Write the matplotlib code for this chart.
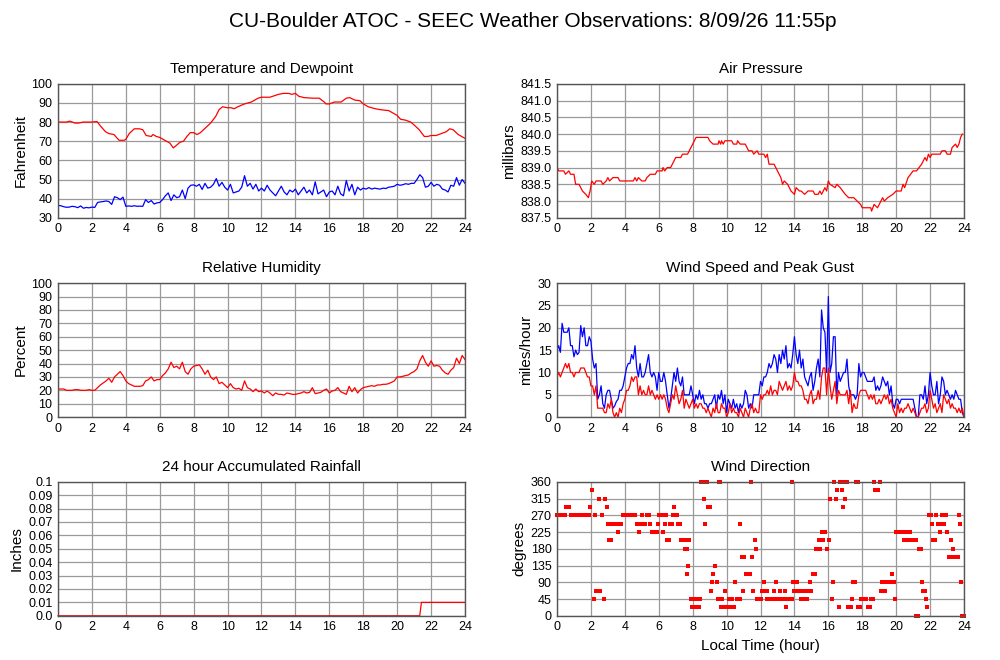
import numpy as np
import matplotlib
matplotlib.use('Agg')
import matplotlib.pyplot as plt

plt.rcParams['font.family'] = ['Liberation Sans', 'DejaVu Sans']

# ---- data ----
hour_ticks = list(range(0, 25, 2))

# temperature (F), breakpoints in hours
temp_hours = [0, 0.5, 0.7, 1.0, 1.2, 1.5, 2.0, 2.3, 2.5, 2.8, 3.0, 3.3, 3.6, 3.9, 4.0, 4.2,
              4.5, 4.8, 5.0, 5.2, 5.5, 5.6, 5.8, 6.0, 6.3, 6.6, 6.8, 7.0, 7.2, 7.4, 7.6, 7.8,
              8.0, 8.2, 8.4, 8.7, 9.0, 9.3, 9.5, 9.7, 10.0, 10.2, 10.4, 10.6, 11.0, 11.4, 11.8,
              12.0, 12.5, 13.0, 13.3, 13.6, 13.8, 14.0, 14.2, 14.5, 15.0, 15.4, 15.7, 15.8,
              16.0, 16.3, 16.7, 17.0, 17.2, 17.5, 17.8, 18.0, 18.3, 18.7, 19.0, 19.5, 19.8,
              20.0, 20.2, 20.5, 20.8, 21.0, 21.3, 21.6, 21.8, 22.0, 22.3, 22.6, 22.9, 23.1,
              23.3, 23.6, 24.0]
temp_f = [80, 80, 80.5, 79.5, 79.5, 80, 80, 80.3, 78, 75, 74, 73.5, 70.5, 70.5, 71, 74,
          76.5, 76.5, 76, 73, 72.5, 73.5, 72.5, 72, 70.5, 69, 66.5, 68, 69.5, 70, 72.5, 74.5,
          74.5, 73.5, 74.5, 77, 79.5, 83, 86.5, 88, 87.5, 87.5, 87, 88, 89.5, 90.5, 92.5,
          93, 93, 94.5, 95, 95, 94.5, 95, 93.5, 92.8, 92.5, 92.5, 90.5, 89.5,
          89.5, 90.5, 90.5, 92.5, 92.8, 91.5, 91.2, 89.5, 88, 87, 86.5, 86, 84.5,
          83.5, 81.5, 81, 80, 78.5, 76, 72.5, 72.5, 73, 73, 74, 75, 76.5,
          76, 73.5, 71.5]

# dewpoint (F), every 10 minutes
dewpoint_f = [
    36.5, 36.3, 35.8, 35.5, 35.6, 36.0,
    35.8, 35.3, 36.2, 35.0, 35.4, 35.2,
    35.6, 35.4, 38.0, 38.3, 38.5, 38.8,
    38.5, 37.0, 41.0, 40.5, 39.5, 40.8,
    36.0, 36.2, 36.0, 36.3, 36.0, 36.1,
    36.0, 39.5, 38.0, 39.0, 37.2, 37.8,
    38.0, 39.5, 41.5, 43.0, 39.0, 42.0,
    40.5, 41.0, 44.5, 40.0, 45.5, 47.0,
    47.2, 46.5, 47.5, 44.8, 48.0, 45.5,
    46.0, 47.5, 50.5, 46.5, 48.5, 46.0,
    44.5, 47.5, 43.0, 43.5, 44.0, 46.0,
    52.0, 46.5, 48.0, 45.0, 47.5, 44.0,
    45.5, 44.0, 47.0, 44.5, 43.0, 41.5,
    44.0, 46.5, 43.5, 42.0, 44.5, 43.5,
    45.0, 42.0, 44.0, 46.0, 43.0, 44.5,
    42.0, 48.8, 42.5, 43.5, 44.5, 41.0,
    43.5, 44.0, 42.0, 46.5, 42.5, 41.5,
    49.5, 44.0, 47.5, 42.0, 46.0, 44.5,
    45.5, 45.0, 45.8, 45.0, 45.5, 45.2,
    45.0, 45.5, 45.3, 46.0, 46.2, 46.5,
    47.5, 47.0, 47.3, 47.8, 47.5, 48.0,
    48.0, 50.0, 52.5, 51.0, 46.0, 46.5,
    48.5, 46.5, 47.5, 47.0, 45.0, 44.5,
    43.5, 47.0, 46.5, 51.0, 47.0, 50.0,
    48.0]

# air pressure (mb), breakpoints in hours
pres_hours = [0, 0.1, 0.4, 0.5, 0.7, 0.8, 1.0, 1.1, 1.3, 1.5, 1.7, 1.85, 1.95, 2.05, 2.2, 2.3,
              2.6, 2.7, 2.9, 3.0, 3.1, 3.3, 3.6, 3.7, 4.0, 4.5, 4.6, 4.7, 4.8, 5.0, 5.2, 5.3,
              5.5, 5.8, 5.9, 6.2, 6.25, 6.35, 6.5, 6.7, 6.9, 7.0, 7.3, 7.4, 7.7, 7.9, 8.0,
              8.2, 8.9, 9.0, 9.2, 9.5, 9.55, 9.65, 9.7, 9.8, 9.9, 10.3, 10.4, 10.6, 10.65,
              10.8, 11.1, 11.3, 11.5, 11.6, 11.8, 11.9, 12.2, 12.3, 12.4, 12.5, 12.8, 13.0,
              13.2, 13.3, 13.4, 13.6, 13.8, 14.0, 14.1, 14.3, 14.4, 14.6, 14.8, 15.1, 15.2,
              15.4, 15.5, 15.6, 15.7, 15.8, 15.9, 16.0, 16.1, 16.4, 16.5, 16.7, 17.0, 17.2,
              17.5, 17.7, 17.9, 18.0, 18.5, 18.55, 18.7, 18.9, 19.0, 19.1, 19.2, 19.3, 19.5,
              19.8, 20.0, 20.3, 20.4, 20.5, 20.7, 21.0, 21.2, 21.5, 21.7, 21.8, 21.9, 22.0,
              22.1, 22.6, 22.7, 22.9, 23.0, 23.2, 23.3, 23.5, 23.6, 23.7, 23.8, 23.9]
pres_mb = [839.0, 838.9, 838.9, 838.8, 838.9, 838.8, 838.8, 838.5, 838.5, 838.3, 838.2, 838.1,
           838.3, 838.6, 838.5, 838.6, 838.6, 838.5, 838.6, 838.7, 838.6, 838.7, 838.7, 838.6,
           838.6, 838.6, 838.7, 838.6, 838.7, 838.6, 838.6, 838.7, 838.8, 838.8, 838.9, 838.9,
           839.0, 838.9, 839.0, 839.0, 839.2, 839.3, 839.3, 839.4, 839.4, 839.6, 839.7,
           839.9, 839.9, 839.8, 839.7, 839.7, 839.8, 839.7, 839.8, 839.7, 839.8, 839.8, 839.7,
           839.7, 839.8, 839.7, 839.7, 839.5, 839.5, 839.4, 839.5, 839.4, 839.4, 839.3, 839.4,
           839.1, 839.1, 838.9, 838.7, 838.5, 838.6, 838.5, 838.3, 838.2, 838.4, 838.3, 838.3,
           838.2, 838.3, 838.3, 838.2, 838.2, 838.3, 838.2, 838.3, 838.4, 838.3, 838.6, 838.5,
           838.4, 838.5, 838.4, 838.2, 838.1, 838.1, 838.0, 837.9, 837.8, 837.8, 837.7, 837.9,
           837.8, 837.9, 838.0, 838.1, 838.0, 838.1, 838.2, 838.3, 838.3, 838.5, 838.4, 838.7,
           838.9, 838.9, 839.1, 839.3, 839.2, 839.4, 839.3, 839.4, 839.4, 839.5, 839.5, 839.4,
           839.4, 839.6, 839.7, 839.6, 839.7, 839.9, 840.0]

# relative humidity (%), every 10 minutes
rh_pct = [
    21, 21, 21, 20, 20, 20,
    20.5, 20.5, 20, 20, 20, 20.5,
    20, 20, 22, 24, 25.5, 27,
    29, 26, 30, 32, 34, 31,
    27, 25, 24, 23, 23, 23,
    23.5, 27, 28, 30, 27, 28,
    28, 31, 33, 36, 41, 37,
    38, 36, 41, 34, 32, 36,
    38, 38.5, 39, 36, 32, 35,
    30, 28, 30, 25, 26, 24,
    22, 25, 22, 21, 21.5, 20,
    27, 22, 21, 19, 21, 19,
    19.5, 18, 19.5, 18, 16, 18,
    17, 17, 16.5, 18, 17.5, 17,
    17, 17.5, 18, 19, 18, 18.5,
    22, 17.5, 18, 18.5, 20, 21,
    18, 19.5, 20, 22, 19, 18,
    17, 23, 19, 22, 18, 20.5,
    22, 22.5, 23, 23.5, 23, 24,
    24, 24.5, 24.5, 25, 26, 27,
    30, 30, 30.5, 31, 31.5, 33,
    34, 36, 42, 46, 41, 38,
    42, 38, 38.5, 38, 35, 33,
    32, 35, 37, 44, 40, 46,
    43]

# wind speed and peak gust (mph), every 6 minutes
gust_mph = [
    15, 16, 14.5, 21, 19, 19, 19, 20, 16, 16,
    13.5, 15, 14, 14.5, 20.5, 18, 20, 16, 16, 18,
    17, 13, 11, 12, 4, 5, 7, 3, 2, 5,
    6, 6, 4, 2, 2.5, 3.5, 4, 6, 6, 7,
    9, 11, 12, 12, 14, 13, 16, 11, 9, 12,
    9, 9, 10, 12, 14, 10, 9, 10, 9, 6,
    10, 8, 8, 10, 8, 5, 2, 4, 7, 10,
    8, 11, 8, 7, 9, 5, 5, 5, 5, 7,
    5, 3, 5, 4, 6, 4, 5, 3, 3, 2,
    3, 3, 4, 5, 2, 5, 4, 6, 3, 5,
    1, 4, 3, 2, 4, 2, 3, 1, 3, 2,
    3, 6, 5, 2, 3, 2, 5, 5, 5, 5,
    8, 7, 9, 9, 10, 12, 11, 12, 14, 13,
    10, 14, 12, 15, 13, 16, 11, 12, 11, 14,
    18, 14, 12, 15, 11, 13, 9, 8, 7, 9,
    10, 6, 8, 11, 13, 9, 24, 20, 19, 10,
    27, 10, 12, 18, 18, 5, 10, 8, 9, 10,
    10, 13, 7, 5, 5, 5, 4, 5, 12, 9,
    10, 10, 9, 8, 8, 8, 8, 9, 6, 7,
    6, 7, 9, 8, 7, 8, 5, 7, 3, 2,
    4, 4, 3, 4, 4, 4, 4, 4, 4, 4,
    4, 2, 0, 0, 5, 5, 4, 7, 3, 5,
    10, 7, 5, 5, 8, 3, 5, 9, 8, 5,
    6, 5, 4, 5, 4, 6, 5, 4, 4, 1,
    0]
speed_mph = [
    9, 10, 9, 10, 11, 12, 11, 12, 10, 10,
    9, 10, 10, 10, 11, 11, 11, 10, 9, 9,
    7, 7, 5, 7, 2, 2, 2, 2, 1, 1,
    3, 2, 4, 1, 0, 1, 0, 2, 1, 3,
    4, 6, 6, 7, 9, 8, 9, 9, 5, 7,
    5, 6, 5, 5, 7, 5, 6, 5, 4, 5,
    4, 5, 4, 5, 4, 2, 1, 3, 5, 4,
    7, 5, 3, 4, 6, 2, 4, 3, 2, 3,
    4, 2, 3, 2, 3, 3, 2, 2, 1, 2,
    1, 0, 2, 1, 3, 1, 1, 3, 2, 2,
    0, 1, 3, 1, 2, 1, 1, 0, 2, 1,
    0, 2, 1, 0, 2, 3, 1, 2, 1, 1,
    5, 4, 5, 5, 6, 5, 7, 5, 6, 6,
    5, 8, 7, 6, 7, 8, 6, 7, 6, 7,
    10, 8, 8, 7, 7, 6, 4, 4, 3, 5,
    6, 3, 4, 4, 6, 4, 9, 11, 11, 5,
    11, 7, 4, 6, 8, 3, 6, 5, 5, 5,
    5, 6, 3, 6, 1, 3, 2, 2, 5, 6,
    6, 6, 6, 5, 4, 5, 4, 5, 3, 3,
    4, 3, 4, 5, 4, 5, 3, 4, 2, 1,
    0, 3, 1, 2, 1, 2, 2, 3, 2, 1,
    2, 1, 0, 0, 1, 2, 2, 3, 1, 2,
    6, 4, 2, 3, 1, 2, 3, 1, 5, 4,
    3, 4, 2, 3, 2, 2, 1, 2, 1, 2,
    0]

# 24 hour accumulated rainfall (inches)
rain_hours = [0, 21.33, 21.43, 24]
rain_in = [0.0, 0.0, 0.01, 0.01]

# wind direction (degrees), individual observations
dir_hours = [0.0, 0.1, 0.2, 0.3, 0.4, 0.5, 0.55, 0.63, 0.71, 0.8, 0.9, 1.0, 1.1, 1.2, 1.3, 1.4,
             1.5, 1.6, 1.7, 1.8, 1.9, 1.96, 2.06, 2.16, 2.26, 2.32, 2.43, 2.49, 2.55, 2.67,
             2.75, 2.83, 2.92, 2.98, 3.08, 3.2, 3.26, 3.36, 3.46, 3.57, 3.63, 3.69, 3.79,
             3.89, 4.0, 4.1, 4.2, 4.3, 4.4, 4.5, 4.6, 4.71, 4.81, 4.9, 5.0, 5.1, 5.2, 5.3,
             5.4, 5.5, 5.59, 5.69, 5.79, 5.89, 5.93, 5.99, 6.09, 6.19, 6.24, 6.34, 6.42,
             6.5, 6.61, 6.67, 6.79, 6.83, 6.91, 6.99, 7.1, 7.16, 7.28, 7.3, 7.4, 7.52, 7.55,
             7.65, 7.67, 7.75, 7.81, 7.91, 7.97, 8.08, 8.16, 8.24, 8.36, 8.44, 8.48, 8.56,
             8.63, 8.67, 8.73, 8.83, 8.93, 9.03, 9.07, 9.14, 9.22, 9.32, 9.42, 9.52, 9.58,
             9.62, 9.65, 9.75, 9.81, 9.91, 9.97, 10.11, 10.16, 10.3, 10.34, 10.46, 10.52,
             10.6, 10.69, 10.79, 10.8, 10.91, 10.99, 11.03, 11.15, 11.26, 11.38, 11.42,
             11.5, 11.58, 11.68, 11.73, 11.81, 11.91, 12.01, 12.07, 12.17, 12.23, 12.28,
             12.36, 12.4, 12.5, 12.6, 12.75, 12.81, 12.91, 12.99, 13.11, 13.17, 13.3,
             13.42, 13.48, 13.58, 13.7, 13.83, 13.85, 13.91, 13.99, 14.09, 14.17, 14.23,
             14.32, 14.36, 14.42, 14.52, 14.62, 14.72, 14.76, 14.87, 14.91, 14.97, 15.11,
             15.21, 15.25, 15.35, 15.44, 15.5, 15.6, 15.64, 15.7, 15.8, 15.93, 16.03,
             16.09, 16.19, 16.25, 16.35, 16.44, 16.52, 16.6, 16.68, 16.78, 16.84, 16.93,
             17.01, 17.11, 17.17, 17.31, 17.37, 17.43, 17.56, 17.62, 17.72, 17.74, 17.86,
             17.92, 18.01, 18.13, 18.25, 18.35, 18.45, 18.54, 18.64, 18.68, 18.74, 18.84,
             18.94, 19.03, 19.13, 19.19, 19.29, 19.37, 19.43, 19.52, 19.62, 19.72, 19.78,
             19.86, 19.92, 19.98, 20.07, 20.17, 20.27, 20.41, 20.45, 20.51, 20.6, 20.7,
             20.8, 20.9, 21.03, 21.15, 21.19, 21.29, 21.33, 21.49, 21.53, 21.59, 21.68,
             21.76, 21.84, 21.94, 22.08, 22.12, 22.17, 22.27, 22.37, 22.47, 22.57, 22.61,
             22.7, 22.8, 22.86, 22.94, 23.0, 23.1, 23.19, 23.25, 23.35, 23.41, 23.55,
             23.65, 23.69, 23.74, 23.84, 23.9, 23.98]
dir_deg = [270, 270, 270, 270, 270, 270, 292.5, 292.5, 292.5, 270, 270, 270, 270, 270, 270, 270,
           270, 270, 270, 270, 270, 292.5, 337.5, 45, 270, 67.5, 67.5, 315, 67.5, 270,
           45, 315, 292.5, 247.5, 202.5, 202.5, 247.5, 247.5, 247.5, 225, 247.5, 247.5, 247.5,
           270, 270, 270, 270, 270, 270, 270, 270, 247.5, 225, 247.5, 270, 247.5, 247.5, 270,
           270, 247.5, 225, 225, 225, 225, 247.5, 270, 270, 270, 225, 247.5, 270,
           202.5, 202.5, 247.5, 247.5, 270, 292.5, 270, 270, 247.5, 247.5, 202.5, 202.5, 202.5, 180,
           180, 112.5, 135, 202.5, 45, 22.5, 45, 22.5, 45, 22.5, 45, 360, 360,
           360, 315, 247.5, 360, 292.5, 292.5, 67.5, 90, 112.5, 135, 90, 45, 360,
           360, 22.5, 45, 22.5, 67.5, 22.5, 22.5, 45, 45, 22.5, 22.5, 90,
           45, 45, 45, 247.5, 157.5, 67.5, 157.5, 112.5, 112.5, 112.5, 360,
           157.5, 67.5, 202.5, 180, 45, 45, 45, 67.5, 67.5, 90, 67.5,
           67.5, 45, 45, 45, 45, 67.5, 90, 45, 45, 67.5, 45,
           67.5, 22.5, 45, 45, 45, 360, 90, 67.5, 67.5, 90, 67.5,
           67.5, 45, 67.5, 67.5, 45, 45, 67.5, 67.5, 90, 67.5, 112.5,
           112.5, 180, 180, 202.5, 180, 202.5, 225, 202.5, 225, 180, 202.5,
           315, 45, 90, 360, 315, 337.5, 22.5, 360, 337.5, 292.5, 360,
           315, 360, 22.5, 22.5, 45, 90, 90, 360, 360, 22.5, 22.5,
           45, 45, 45, 45, 22.5, 22.5, 45, 45, 360, 337.5, 337.5,
           337.5, 360, 67.5, 90, 90, 67.5, 90, 90, 90, 90, 112.5,
           90, 45, 225, 225, 225, 225, 225, 202.5, 225, 225, 202.5,
           225, 202.5, 202.5, 202.5, 0, 0, 180, 180, 90, 67.5, 67.5,
           45, 22.5, 270, 270, 247.5, 202.5, 202.5, 270, 247.5, 225, 247.5,
           270, 247.5, 270, 270, 225, 157.5, 157.5, 202.5, 180, 157.5, 157.5,
           157.5, 270, 247.5, 90, 0, 0]

FRAME = '#555555'
GRID = '#9a9a9a'


def style_axis(ax, title, ylabel, ymin, ymax, yticks, yticklabels=None):
    ax.set_xlim(0, 24)
    ax.set_ylim(ymin, ymax)
    ax.set_xticks(hour_ticks)
    ax.set_yticks(yticks)
    if yticklabels is not None:
        ax.set_yticklabels(yticklabels)
    ax.set_title(title, fontsize=11, pad=8)
    ax.set_ylabel(ylabel, fontsize=11, labelpad=3)
    ax.grid(True, color=GRID, linewidth=0.9)
    ax.set_axisbelow(True)
    ax.tick_params(length=0, labelsize=9, pad=4)
    for s in ax.spines.values():
        s.set_color(FRAME)
        s.set_linewidth(1.0)


def main():
    fig = plt.figure(figsize=(10, 6.6), dpi=100)

    # panel rectangles (figure fractions)
    left_x, right_x, w = 0.058, 0.557, 0.407
    rows = [0.670, 0.368, 0.067]
    h = 0.203

    fig.text(0.533, 0.968, 'CU-Boulder ATOC - SEEC Weather Observations: 8/09/26 11:55p',
             ha='center', va='center', fontsize=15)

    # 1. temperature and dewpoint
    ax = fig.add_axes([left_x, rows[0], w, h])
    ax.plot(temp_hours, temp_f, color='red', linewidth=0.9)
    ax.plot(np.linspace(0, 24, len(dewpoint_f)), dewpoint_f, color='blue', linewidth=0.9)
    style_axis(ax, 'Temperature and Dewpoint', 'Fahrenheit', 30, 100, range(30, 101, 10))

    # 2. air pressure
    ax = fig.add_axes([right_x, rows[0], w, h])
    ax.plot(pres_hours, pres_mb, color='red', linewidth=0.9)
    pt = np.arange(837.5, 841.51, 0.5)
    style_axis(ax, 'Air Pressure', 'millibars', 837.5, 841.5, pt, ['%.1f' % v for v in pt])

    # 3. relative humidity
    ax = fig.add_axes([left_x, rows[1], w, h])
    ax.plot(np.linspace(0, 24, len(rh_pct)), rh_pct, color='red', linewidth=0.9)
    style_axis(ax, 'Relative Humidity', 'Percent', 0, 100, range(0, 101, 10))

    # 4. wind speed and gust
    ax = fig.add_axes([right_x, rows[1], w, h])
    wind_t = np.linspace(0, 24, len(gust_mph))
    ax.plot(wind_t, gust_mph, color='blue', linewidth=0.9)
    ax.plot(wind_t, speed_mph, color='red', linewidth=0.9)
    style_axis(ax, 'Wind Speed and Peak Gust', 'miles/hour', 0, 30, range(0, 31, 5))

    # 5. rainfall
    ax = fig.add_axes([left_x, rows[2], w, h])
    ax.plot(rain_hours, rain_in, color='red', linewidth=0.9, clip_on=False)
    rt = np.round(np.arange(0, 0.101, 0.01), 2)
    rlabels = ['0.0'] + ['%.2f' % v for v in rt[1:-1]] + ['0.1']
    style_axis(ax, '24 hour Accumulated Rainfall', 'Inches', 0, 0.1, rt, rlabels)

    # 6. wind direction
    ax = fig.add_axes([right_x, rows[2], w, h])
    ax.plot(dir_hours, dir_deg, linestyle='none', marker='s', markersize=2.4,
            markeredgewidth=0, color='red', clip_on=False)
    style_axis(ax, 'Wind Direction', 'degrees', 0, 360, range(0, 361, 45))
    ax.set_xlabel('Local Time (hour)', fontsize=11, labelpad=4)

    fig.savefig('out.png', dpi=100)


if __name__ == '__main__':
    main()
